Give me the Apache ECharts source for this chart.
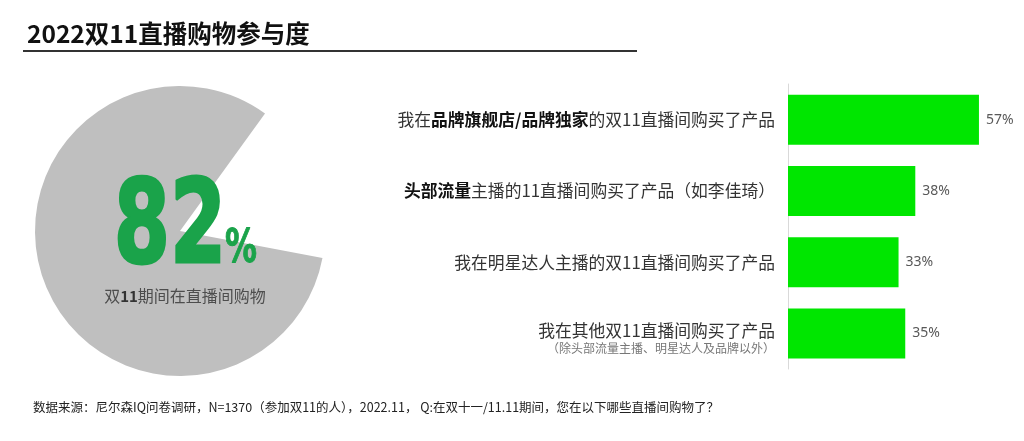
<!DOCTYPE html>
<html>
<head>
<meta charset="utf-8">
<script src="https://cdn.jsdelivr.net/npm/echarts@6/dist/echarts.min.js"></script>
<style>
  html, body { margin: 0; padding: 0; background: #fff; }
  #chart { width: 1024px; height: 441px; }
</style>
</head>
<body>
<div id="chart"></div>
<script>
// 双11期间在直播间购物
var pieShare = [82, 18];
var pieText = '双{b|11}期间在直播间购物';

// 直播间类型
var categories = [
  '我在{b|品牌旗舰店/品牌独家}的双11直播间购买了产品',
  '{b|头部流量}主播的11直播间购买了产品（如李佳琦）',
  '我在明星达人主播的双11直播间购买了产品',
  '{gap| }\n我在其他双11直播间购买了产品\n{s|（除头部流量主播、明星达人及品牌以外）}'
];
var values = [57, 38, 33, 35];

var footNote = '数据来源：尼尔森IQ问卷调研，N=1370（参加双11的人），2022.11， Q:在双十一/11.11期间，您在以下哪些直播间购物了？';

var cjk = "'Noto Sans CJK SC', 'Noto Sans', sans-serif";

var chart = echarts.init(document.getElementById('chart'));

chart.setOption({
  backgroundColor: '#fff',
  animation: false,
  title: {
    text: '2022双11直播购物参与度',
    left: 22,
    top: 16,
    textStyle: {
      fontFamily: cjk,
      fontSize: 24.5,
      fontWeight: 'bold',
      color: '#111'
    }
  },
  grid: {
    left: 788,
    top: 84,
    width: 201,
    height: 285
  },
  xAxis: {
    type: 'value',
    min: 0,
    max: 60,
    show: false
  },
  yAxis: {
    type: 'category',
    inverse: true,
    data: categories,
    axisLine: { show: true, lineStyle: { color: '#d9d9d9', width: 1 } },
    axisTick: { show: false },
    splitLine: { show: false },
    axisLabel: {
      margin: 13,
      fontFamily: cjk,
      fontSize: 16.8,
      color: '#333',
      lineHeight: 21,
      rich: {
        b: { fontFamily: cjk, fontSize: 16.8, fontWeight: 'bold', color: '#111', lineHeight: 21 },
        s: { fontFamily: cjk, fontSize: 12, color: '#777', lineHeight: 16 },
        gap: { fontSize: 1, lineHeight: 10 }
      }
    }
  },
  series: [
    {
      type: 'pie',
      silent: true,
      z: 1,
      center: [180, 231],
      radius: 145,
      startAngle: -10.7,
      clockwise: true,
      label: { show: false },
      labelLine: { show: false },
      emphasis: { disabled: true },
      data: [
        { value: pieShare[0], itemStyle: { color: '#bfbfbf' } },
        { value: pieShare[1], itemStyle: { color: 'rgba(0,0,0,0)' } }
      ]
    },
    {
      type: 'bar',
      barWidth: 50,
      silent: true,
      itemStyle: { color: '#00e600' },
      label: {
        show: true,
        position: 'right',
        distance: 7,
        formatter: '{c}%',
        fontFamily: "'Noto Sans', sans-serif",
        fontSize: 14,
        color: '#595959'
      },
      data: values
    }
  ],
  graphic: {
    elements: [
      {
        type: 'line',
        z: 100,
        shape: { x1: 23, y1: 51, x2: 637, y2: 51 },
        style: { stroke: '#333', lineWidth: 2 }
      },
      {
        type: 'text',
        z: 100,
        x: 170,
        y: 232,
        scaleX: 0.68,
        scaleY: 0.98,
        style: {
          text: String(pieShare[0]),
          align: 'center',
          verticalAlign: 'middle',
          font: "bold 119px 'DejaVu Sans'",
          fill: '#1aa34a',
          stroke: '#1aa34a',
          lineWidth: 3
        }
      },
      {
        type: 'text',
        z: 100,
        x: 241,
        y: 250,
        scaleX: 0.68,
        style: {
          text: '%',
          align: 'center',
          verticalAlign: 'middle',
          font: "bold 47px 'DejaVu Sans'",
          fill: '#1aa34a',
          stroke: '#1aa34a',
          lineWidth: 1
        }
      },
      {
        type: 'text',
        z: 100,
        x: 185,
        y: 296,
        style: {
          text: pieText,
          align: 'center',
          verticalAlign: 'middle',
          fontFamily: cjk,
          fontSize: 16,
          fill: '#4d4d4d',
          rich: {
            b: { fontFamily: cjk, fontSize: 15, fontWeight: 'bold', fill: '#333' }
          }
        }
      },
      {
        type: 'text',
        z: 100,
        x: 33,
        y: 407,
        style: {
          text: footNote,
          align: 'left',
          verticalAlign: 'middle',
          fontFamily: cjk,
          fontSize: 12.5,
          fill: '#222'
        }
      }
    ]
  }
});
</script>
</body>
</html>
